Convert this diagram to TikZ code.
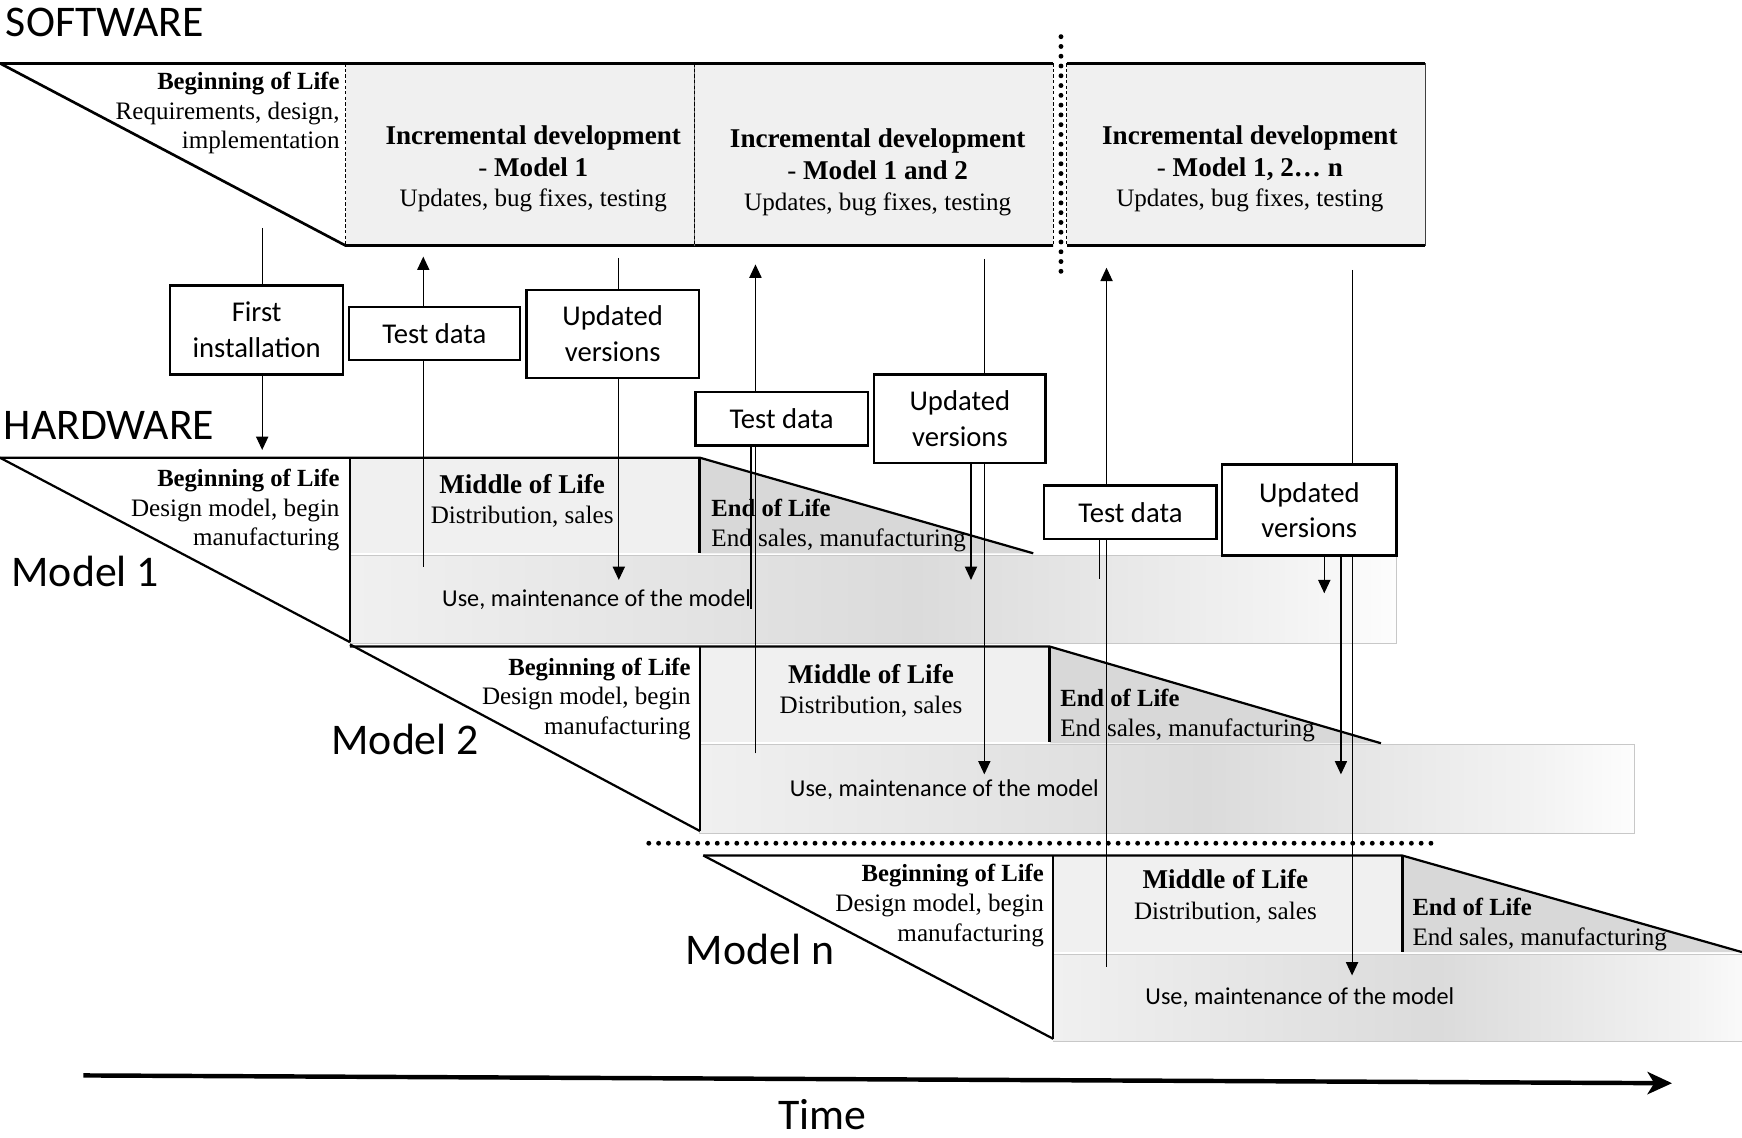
\documentclass[tikz,border=0pt]{standalone}
\usepackage{fontspec}
\setmainfont{Liberation Serif}
\newfontfamily\calib{Carlito}
\usetikzlibrary{arrows.meta}
\definecolor{swfill}{HTML}{F0F0F0}
\definecolor{molfill}{HTML}{F0F0F0}
\definecolor{eolfill}{HTML}{D8D8D8}
\definecolor{useedge}{HTML}{C8C8C8}
\definecolor{usedark}{HTML}{DBDBDB}
\definecolor{uselight}{HTML}{F3F3F3}
\definecolor{useend}{HTML}{FDFDFD}
\pgfdeclarehorizontalshading{useshade}{100bp}{%
  color(0bp)=(swfill); color(25bp)=(swfill); color(52bp)=(usedark);
  color(70bp)=(uselight); color(75bp)=(useend); color(100bp)=(useend)}
\begin{document}
\begin{tikzpicture}[x=0.5pt,y=-0.5pt,
  thickline/.style={line width=1pt, line join=round},
  swline/.style={line width=1.2pt, line join=round},
  dashline/.style={line width=0.45pt, dash pattern=on 1.5pt off 1pt},
  dotline/.style={line width=2.2pt, line cap=round, dash pattern=on 0pt off 4.4pt},
  conn/.style={line width=0.5pt},
  arr/.style={conn, -{Triangle[length=6pt,width=5.5pt]}},
  infobox/.style={draw, line width=1pt, fill=white, align=center, inner sep=0pt,
    font=\calib\fontsize{12.9}{16}\selectfont},
  biglabel/.style={anchor=west, inner sep=0pt, font=\calib\fontsize{19.7}{22}\selectfont},
  sertext/.style={inner sep=0pt, font=\fontsize{11.3}{13}\selectfont, text height=7.5pt, text depth=2.2pt},
  serbold/.style={sertext, font=\bfseries\fontsize{11.1}{13}\selectfont},
  serbig/.style={inner sep=0pt, font=\bfseries\fontsize{12.2}{14}\selectfont, text height=8.2pt, text depth=2.4pt},
  usetext/.style={inner sep=0pt, font=\calib\fontsize{10.9}{13}\selectfont},
  usearea/.style={shading=useshade}
]
\useasboundingbox (0,0) rectangle (1568,1024);

% ---------------- SOFTWARE ----------------
\node[biglabel] (swlabel) at (5,20) {SOFTWARE};
\fill[swfill] (311,57) rectangle (948,221);
\fill[swfill] (960,57) rectangle (1283,221);
\draw[swline] (0,57) -- (948,57);
\draw[swline] (960,57) -- (1283,57);
\draw[swline] (0,57) -- (311,221) -- (948,221);
\draw[swline] (960,221) -- (1283,221);
\draw[dashline] (311,57) -- (311,221);
\draw[line width=0.35pt, black!60] (625,57) -- (625,221);
\draw[dashline] (625,57) -- (625,221);
\draw[dashline] (948,57) -- (948,221);
\draw[dashline] (960,57) -- (960,221);
\draw[line width=0.8pt, black!75] (1283,57) -- (1283,221);
\draw[dotline] (955,33) -- (955,245);

\node[serbold, anchor=east] (swbolh) at (306,75) {Beginning of Life};
\node[sertext, anchor=east] (swbol1) at (306,102) {Requirements, design,};
\node[sertext, anchor=east] (swbol2) at (306,128) {implementation};

\node[serbig] (inca1) at (480,124) {Incremental development};
\node[serbig] (inca2) at (480,153) {{\mdseries -} Model 1};
\node[sertext] (inca3) at (480,181) {Updates, bug fixes, testing};
\node[serbig] (incb1) at (790,127) {Incremental development};
\node[serbig] (incb2) at (790,156) {{\mdseries -} Model 1 and 2};
\node[sertext] (incb3) at (790,184) {Updates, bug fixes, testing};
\node[serbig] (incc1) at (1125,124) {Incremental development};
\node[serbig] (incc2) at (1125,153) {{\mdseries -} Model 1, 2… n};
\node[sertext] (incc3) at (1125,181) {Updates, bug fixes, testing};

% ---------------- HARDWARE ----------------
\node[biglabel] (hwlabel) at (3,383) {HARDWARE};

% Model 1
\fill[molfill] (315,412) rectangle (630,498);
\fill[eolfill] (630,412) -- (930,498) -- (630,498) -- cycle;
\shade[usearea] (315,500) rectangle (1257,579);
\draw[useedge, line width=0.4pt] (315,500) rectangle (1257,579);
\draw[thickline] (0,412) -- (630,412) -- (930,498);
\draw[thickline] (0,412) -- (315,578);
\draw[line width=0.8pt] (315,412) -- (315,578);
\draw[line width=1.3pt] (630,412) -- (630,498);
\node[biglabel] (m1label) at (10,514) {Model 1};
\node[serbold, anchor=east] (m1bolh) at (306,433) {Beginning of Life};
\node[sertext, anchor=east] (m1bol1) at (306,460) {Design model, begin};
\node[sertext, anchor=east] (m1bol2) at (306,486) {manufacturing};
\node[serbig] (m1molh) at (470,438) {Middle of Life};
\node[sertext] (m1mol1) at (470,466) {Distribution, sales};
\node[serbold, anchor=west] (m1eolh) at (640,460) {End of Life};
\node[sertext, anchor=west] (m1eol1) at (640,487) {End sales, manufacturing};
\node[usetext] (m1use) at (537,540) {Use, maintenance of the model};

% Model 2
\fill[molfill] (630,582) rectangle (945,668);
\fill[eolfill] (945,582) -- (1243,669) -- (945,669) -- cycle;
\shade[usearea] (630,670) rectangle (1471,750);
\draw[useedge, line width=0.4pt] (630,670) rectangle (1471,750);
\draw[thickline] (315,582) -- (945,582) -- (1243,669);
\draw[thickline] (315,580) -- (630,748);
\draw[line width=0.8pt] (630,582) -- (630,748);
\draw[line width=1.3pt] (945,582) -- (945,668);
\node[biglabel] (m2label) at (298,666) {Model 2};
\node[serbold, anchor=east] (m2bolh) at (622,603) {Beginning of Life};
\node[sertext, anchor=east] (m2bol1) at (622,629) {Design model, begin};
\node[sertext, anchor=east] (m2bol2) at (622,656) {manufacturing};
\node[serbig] (m2molh) at (784,609) {Middle of Life};
\node[sertext] (m2mol1) at (784,637) {Distribution, sales};
\node[serbold, anchor=west] (m2eolh) at (954,631) {End of Life};
\node[sertext, anchor=west] (m2eol1) at (954,658) {End sales, manufacturing};
\node[usetext] (m2use) at (850,711) {Use, maintenance of the model};

\draw[dotline] (584,759) -- (1293,759);

% Model n
\fill[molfill] (948,770) rectangle (1262,857);
\fill[eolfill] (1262,770) -- (1568,857) -- (1262,857) -- cycle;
\shade[usearea] (948,859) rectangle (1590,937);
\draw[useedge, line width=0.4pt] (948,859) -- (1568,859);
\draw[useedge, line width=0.4pt] (948,937) -- (1568,937);
\draw[thickline] (633,770) -- (1262,770) -- (1568,857);
\draw[thickline] (633,770) -- (948,935);
\draw[line width=0.8pt] (948,770) -- (948,935);
\draw[line width=1.3pt] (1262,770) -- (1262,857);
\node[biglabel] (mnlabel) at (617,855) {Model n};
\node[serbold, anchor=east] (mnbolh) at (940,788) {Beginning of Life};
\node[sertext, anchor=east] (mnbol1) at (940,815) {Design model, begin};
\node[sertext, anchor=east] (mnbol2) at (940,842) {manufacturing};
\node[serbig] (mnmolh) at (1103,794) {Middle of Life};
\node[sertext] (mnmol1) at (1103,822) {Distribution, sales};
\node[serbold, anchor=west] (mneolh) at (1271,819) {End of Life};
\node[sertext, anchor=west] (mneol1) at (1271,846) {End sales, manufacturing};
\node[usetext] (mnuse) at (1170,898) {Use, maintenance of the model};

% ---------------- Boxes ----------------
\node[infobox, minimum width=78pt, minimum height=40pt] (fi) at (231,297) {First\\installation};
\node[infobox, minimum width=77pt, minimum height=24pt] (tda) at (391,300) {Test data};
\node[infobox, minimum width=77.5pt, minimum height=39.5pt] (uva) at (551.5,300.5) {Updated\\versions};
\node[infobox, minimum width=77.5pt, minimum height=24pt] (tdb) at (703.5,377) {Test data};
\node[infobox, minimum width=77pt, minimum height=40pt] (uvb) at (864,377) {Updated\\versions};
\node[infobox, minimum width=77.5pt, minimum height=24pt] (tdc) at (1017.5,461) {Test data};
\node[infobox, minimum width=78.5pt, minimum height=41pt] (uvc) at (1178.5,459) {Updated\\versions};

% ---------------- Connectors ----------------
\coordinate (fiA) at (236,205);
\coordinate (fiB) at (236,405);
\draw[conn] (fiA) -- (fi.north -| fiA);
\draw[arr] (fi.south -| fiB) -- (fiB);

\coordinate (tdaA) at (381,510);
\coordinate (tdaB) at (381,231);
\draw[conn] (tdaA) -- (tda.south -| tdaA);
\draw[arr] (tda.north -| tdaB) -- (tdaB);

\coordinate (uvaA) at (557,232);
\coordinate (uvaB) at (557,522);
\draw[conn] (uvaA) -- (uva.north -| uvaA);
\draw[arr] (uva.south -| uvaB) -- (uvaB);

\coordinate (tdbA) at (676,548);
\coordinate (tdbC) at (680,678);
\coordinate (tdbB) at (680,238);
\draw[conn] (tdbA) -- (tdb.south -| tdbA);
\draw[conn] (tdbC) -- (tdb.south -| tdbC);
\draw[arr] (tdb.north -| tdbB) -- (tdbB);

\coordinate (uvbA) at (886,233);
\coordinate (uvbB) at (874,522);
\coordinate (uvbC) at (886,697);
\draw[conn] (uvbA) -- (uvb.north -| uvbA);
\draw[arr] (uvb.south -| uvbB) -- (uvbB);
\draw[arr] (uvb.south -| uvbC) -- (uvbC);

\coordinate (tdcA) at (990,521);
\coordinate (tdcC) at (996,870);
\coordinate (tdcB) at (996,241);
\draw[conn] (tdcA) -- (tdc.south -| tdcA);
\draw[conn] (tdcC) -- (tdc.south -| tdcC);
\draw[arr] (tdc.north -| tdcB) -- (tdcB);

\coordinate (uvcA) at (1217,243);
\coordinate (uvcB) at (1192,534);
\coordinate (uvcC) at (1207,697);
\coordinate (uvcD) at (1217,878);
\draw[conn] (uvcA) -- (uvc.north -| uvcA);
\draw[arr] (uvc.south -| uvcB) -- (uvcB);
\draw[arr] (uvc.south -| uvcC) -- (uvcC);
\draw[arr] (uvc.south -| uvcD) -- (uvcD);

% ---------------- Time ----------------
\coordinate (tA) at (75,968);
\coordinate (tB) at (1505,975);
\draw[line width=2pt, -{Stealth[length=11pt,width=10pt,inset=3pt]}] (tA) -- (tB);
\node[biglabel] (timelabel) at (700,1003) {Time};
\end{tikzpicture}
\end{document}
